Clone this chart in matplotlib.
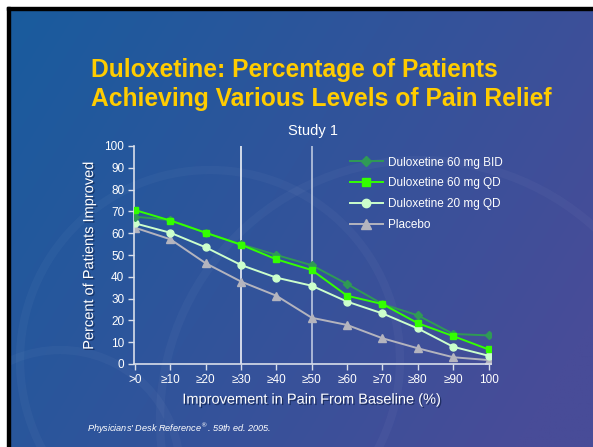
import numpy as np
from matplotlib import pyplot as plt
from matplotlib import patheffects as pe
from matplotlib.patches import Circle, Rectangle

plt.rcParams['font.family'] = ['Liberation Sans', 'DejaVu Sans']

# data
categories = [">0", "≥10", "≥20", "≥30", "≥40", "≥50", "≥60", "≥70", "≥80", "≥90", "100"]
bid_60 = [67.6, 66.0, 60.2, 54.9, 50.0, 45.3, 36.7, 27.5, 22.3, 13.8, 13.1]
qd_60 = [70.6, 65.8, 60.2, 54.7, 48.0, 43.1, 31.3, 27.5, 18.7, 12.8, 6.7]
qd_20 = [64.5, 60.2, 53.5, 45.4, 39.6, 35.9, 28.6, 23.2, 16.3, 7.9, 3.8]
placebo = [62.5, 57.2, 46.2, 37.8, 31.3, 21.2, 17.9, 11.8, 7.2, 3.1, 1.8]
yticks = list(range(0, 101, 10))

fig = plt.figure(figsize=(5.93, 4.47), dpi=100)

# slide background
bg = fig.add_axes([0, 0, 1, 1], zorder=0)
bg.set_xlim(0, 593)
bg.set_ylim(447, 0)
bg.axis("off")
xx, yy = np.meshgrid(np.linspace(0, 1, 300), np.linspace(0, 1, 200))
t = np.clip(0.75 * xx + 0.35 * yy, 0, 1)[..., None]
c0 = np.array([24, 92, 158]) / 255
c1 = np.array([72, 76, 152]) / 255
img = c0 * (1 - t) + c1 * t
bg.imshow(img, extent=[0, 593, 447, 0], aspect="auto")
for cx, cy, r in [(210, 360, 190), (60, 470, 120), (420, 420, 260)]:
    bg.add_patch(Circle((cx, cy), r, fill=False, ec="white", lw=6, alpha=0.03))
bg.add_patch(Rectangle((0, 0), 593, 7, color="white"))
bg.add_patch(Rectangle((0, 0), 7, 447, color="white"))
bg.add_patch(Rectangle((7, 7), 586, 2.5, color="black"))
bg.add_patch(Rectangle((7, 7), 2.5, 440, color="black"))

shadow = [pe.withSimplePatchShadow(offset=(1, -1), shadow_rgbFace="#0a1a40", alpha=0.6)]

fig.text(91 / 593, 1 - 106 / 447, "Duloxetine: Percentage of Patients\nAchieving Various Levels of Pain Relief",
         color="#ffcc00", fontsize=17.7, fontweight="bold", ha="left", va="baseline",
         linespacing=1.25)

ax = fig.add_axes([134 / 593, 1 - 364 / 447, (491 - 134) / 593, (364 - 146) / 447], zorder=2)
ax.patch.set_alpha(0)
x = np.arange(len(categories))

ax.vlines([3, 5], 0, 100, colors=["white", "#c8d2e6"], lw=1.1, zorder=1)

ax.plot(x, placebo, color="#b4b4be", marker="^", ms=5.5, lw=1.4, label="Placebo", zorder=2)
ax.plot(x, qd_20, color="#ccffcc", marker="o", ms=5, lw=1.4, label="Duloxetine 20 mg QD", zorder=3)
ax.plot(x, bid_60, color="#2f9a55", marker="D", ms=4.5, lw=1.4, label="Duloxetine 60 mg BID", zorder=4)
ax.plot(x, qd_60, color="#33ff00", marker="s", ms=5, lw=1.4, label="Duloxetine 60 mg QD", zorder=5)

ax.set_xlim(-0.03, 10.07)
ax.set_ylim(0, 100)
ax.set_xticks(x)
ax.set_xticklabels(categories)
ax.set_yticks(yticks)
for s in ["top", "right"]:
    ax.spines[s].set_visible(False)
for s in ["left", "bottom"]:
    ax.spines[s].set_color("#d8deea")
    ax.spines[s].set_linewidth(1.2)
ax.tick_params(colors="white", labelsize=8.5, length=4, width=1, pad=3)
ax.tick_params(axis="both", color="#d8deea")

ax.set_title("Study 1", color="white", fontsize=10.5, pad=8)
ax.set_xlabel("Improvement in Pain From Baseline (%)", color="white", fontsize=10.5,
              labelpad=5, path_effects=shadow)
ax.set_ylabel("Percent of Patients Improved", color="white", fontsize=10.5,
              labelpad=6, path_effects=shadow)

h, l = ax.get_legend_handles_labels()
order = [2, 3, 1, 0]
leg = ax.legend([h[i] for i in order], [l[i] for i in order], loc="upper left",
                bbox_to_anchor=(0.575, 1.0), frameon=False, fontsize=8.5,
                labelcolor="white", handlelength=2.8, labelspacing=0.75,
                handletextpad=0.4, markerscale=1.2)

fig.text(87 / 593, 1 - 432 / 447, "Physicians' Desk Reference$^{®}$. 59th ed. 2005.",
         color="white", fontsize=6.6, style="italic", ha="left", va="baseline")

fig.savefig("out.png", dpi=100)
